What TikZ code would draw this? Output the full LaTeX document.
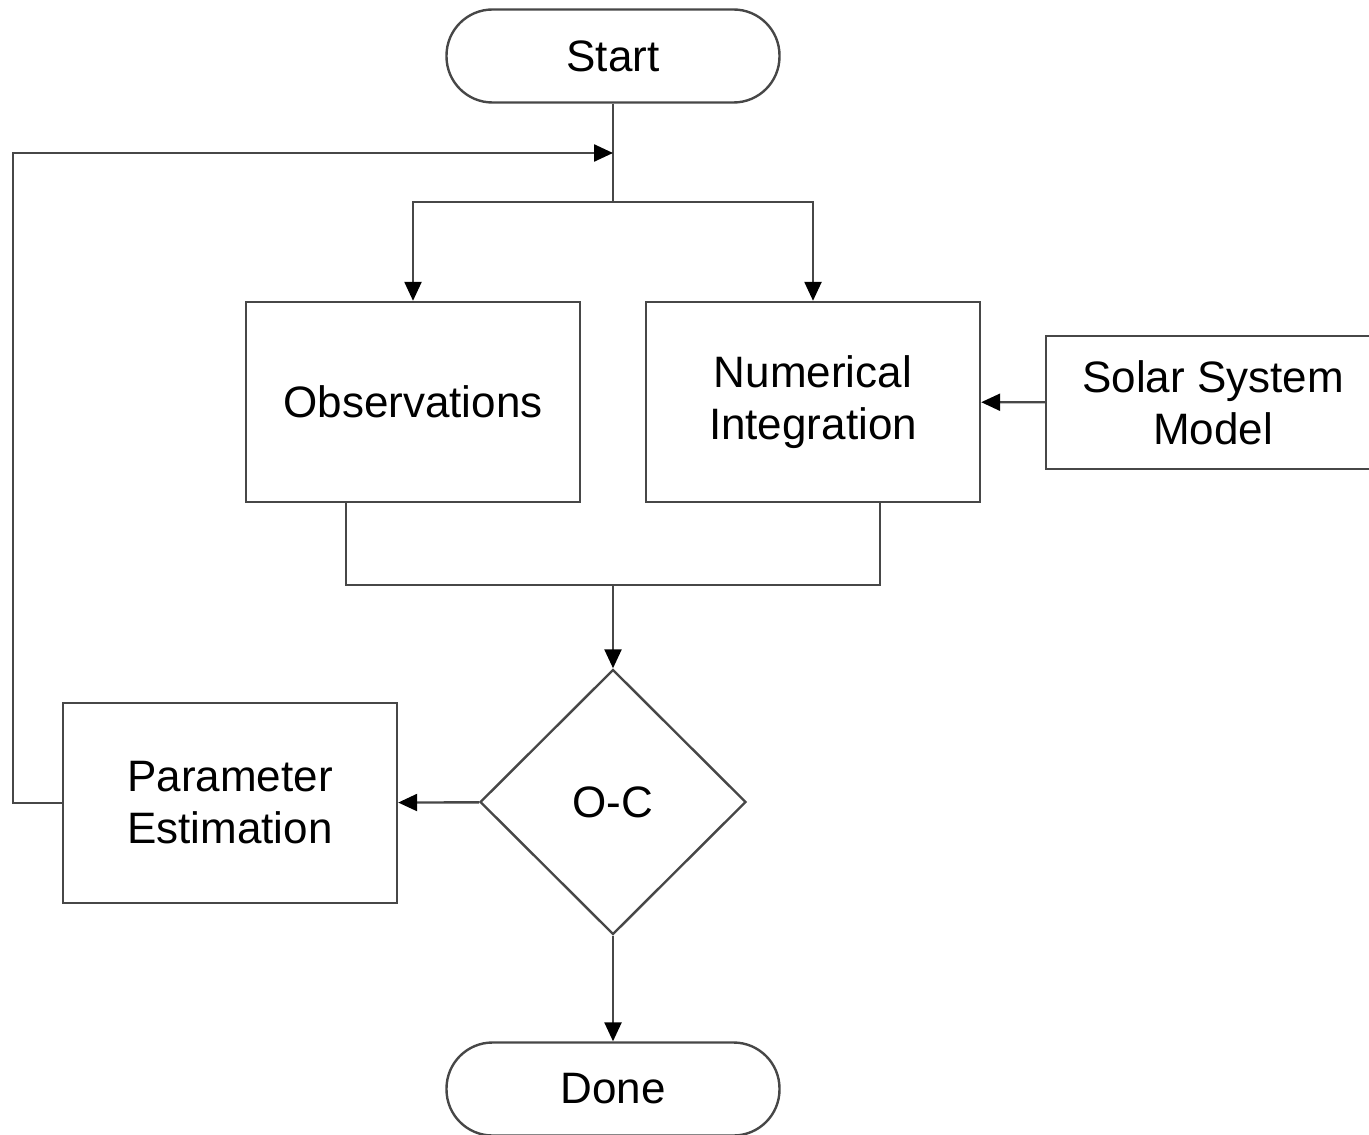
\documentclass[tikz,border=0pt]{standalone}
\usepackage{fontspec}
\setmainfont{Liberation Sans}
\usetikzlibrary{shapes.geometric,arrows.meta}

\tikzset{
  flowline/.style={draw=black!72, line width=1.2pt},
  arr/.style={flowline, -{Triangle[length=9.5pt,width=8.5pt,black]}},
  term/.style={flowline, rounded corners=23pt, minimum width=166.5pt, minimum height=46.5pt, align=center, font=\fontsize{22}{26}\selectfont},
  proc/.style={flowline, rectangle, minimum width=167pt, minimum height=100pt, align=center, font=\fontsize{22}{26}\selectfont},
  decide/.style={flowline, diamond, minimum width=133pt, minimum height=132.5pt, inner sep=0pt, font=\fontsize{22}{26}\selectfont},
}

\begin{document}
\begin{tikzpicture}[x=0.5pt,y=0.5pt,yscale=-1,xscale=1]
\useasboundingbox (0,0) rectangle (1369,1134);

% boxes
\node [term] (start) at (613,56) {Start};
\node [proc] (obs) at (413,402) {Observations};
\node [proc] (num) at (813,402) {Numerical\\Integration};
\node [proc, minimum height=66.5pt] (solar) at (1213,402.5) {Solar System\\Model};
\node [decide] (oc) at (613,802) {O-C};
\node [proc] (param) at (230,803) {Parameter\\Estimation};
\node [term] (done) at (613,1089) {Done};

\coordinate (loop) at (613,153);
\coordinate (split) at (613,202);
\coordinate (merge) at (613,585);
\coordinate (back) at (13,803);

% connectors
\draw [flowline] (start) -- (split);
\draw [arr] (split) -| (obs);
\draw [arr] (split) -| (num);
\draw [arr] (solar) -- (num);
\draw [flowline] ([xshift=-33.5pt]obs.south) |- (merge) -| ([xshift=33.5pt]num.south);
\draw [arr] (merge) -- (oc);
\draw [arr] (oc) -- (param);
\draw [arr] (oc) -- (done);
\draw [arr] (param.west) -- (back) |- (loop);

\end{tikzpicture}
\end{document}
